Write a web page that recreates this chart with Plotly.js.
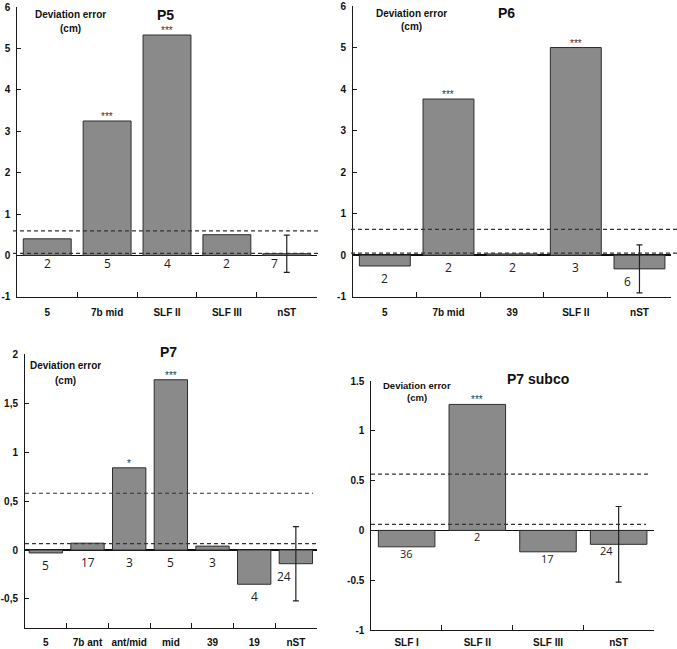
<!DOCTYPE html>
<html>
<head>
<meta charset="utf-8">
<script src="https://cdn.plot.ly/plotly-3.0.1.min.js"></script>
<style>html,body{margin:0;padding:0;background:#fff;}#chart{width:677px;height:649px;}</style>
</head>
<body>
<div id="chart"></div>
<script>
// ---- Data ----
var p5Cats = ['5', '7b mid', 'SLF II', 'SLF III', 'nST'];
var p5Vals = [0.40, 3.25, 5.33, 0.50, 0.04];
var p5N = ['2', '5', '4', '2', '7'];
var p5Stars = ['', '***', '***', '', ''];
var p5Err = 0.45;
var p5Thresh = [0.59, 0.05];

var p6Cats = ['5', '7b mid', '39', 'SLF II', 'nST'];
var p6Vals = [-0.26, 3.76, 0.03, 5.0, -0.33];
var p6N = ['2', '2', '2', '3', '6'];
var p6Stars = ['', '***', '', '***', ''];
var p6Err = 0.58;
var p6Thresh = [0.62, 0.05];

var p7Cats = ['5', '7b ant', 'ant/mid', 'mid', '39', '19', 'nST'];
var p7Vals = [-0.03, 0.07, 0.84, 1.74, 0.04, -0.35, -0.14];
var p7N = ['5', '17', '3', '5', '3', '4', '24'];
var p7Stars = ['', '', '*', '***', '', '', ''];
var p7Err = 0.38;
var p7Thresh = [0.58, 0.065];

var p7sCats = ['SLF I', 'SLF II', 'SLF III', 'nST'];
var p7sVals = [-0.165, 1.265, -0.215, -0.14];
var p7sN = ['36', '2', '17', '24'];
var p7sStars = ['', '***', '', ''];
var p7sErr = 0.38;
var p7sThresh = [0.565, 0.06];

var p5Ticks = [-1, 0, 1, 2, 3, 4, 5, 6];
var p5TickText = ['-1', '0', '1', '2', '3', '4', '5', '6'];
var p7Ticks = [-0.5, 0, 0.5, 1, 1.5, 2];
var p7TickText = ['-0,5', '0', '0,5', '1', '1,5', '2'];
var p7sTicks = [-1, -0.5, 0, 0.5, 1, 1.5];
var p7sTickText = ['-1', '-0.5', '0', '0.5', '1', '1.5'];

// ---- Layout helpers ----
var W = 677, H = 649;
function px(x) { return x / W; }
function py(y) { return 1 - y / H; }

var BAR_FILL = '#8a8a8a', BAR_LINE = '#2e2e2e', AXIS = '#1a1a1a';
var boldFont = {family: 'Liberation Sans, Arial, sans-serif', size: 10, color: '#111', weight: 'bold'};

var panels = [
  {cats: p5Cats, vals: p5Vals, n: p5N, stars: p5Stars, err: p5Err, thr: p5Thresh,
   xd: [17.3, 316.7], yd: [296.7, 7.3], range: [-1, 6], tv: p5Ticks, tt: p5TickText,
   title: 'P5', tpos: [165, 15], dev: [70, 15, 28], devSize: 10, dash: [[13, 318], [13, 318]], nShift: 2, nSize: 12, stand: 6},
  {cats: p6Cats, vals: p6Vals, n: p6N, stars: p6Stars, err: p6Err, thr: p6Thresh,
   xd: [353, 671.3], yd: [296.7, 6], range: [-1, 6], tv: p5Ticks, tt: p5TickText,
   title: 'P6', tpos: [506, 13], dev: [411, 13, 26], devSize: 10, dash: [[351, 677], [351, 677]], nShift: -2, nSize: 12, stand: 6},
  {cats: p7Cats, vals: p7Vals, n: p7N, stars: p7Stars, err: p7Err, thr: p7Thresh,
   xd: [25, 316.7], yd: [628.3, 354.3], range: [-0.8, 2], tv: p7Ticks, tt: p7TickText,
   title: 'P7', tpos: [168, 352], dev: [65, 366, 380], devSize: 10, dash: [[25, 313], [25, 318]], nShift: -2, nSize: 12, stand: 5},
  {cats: p7sCats, vals: p7sVals, n: p7sN, stars: p7sStars, err: p7sErr, thr: p7sThresh,
   xd: [371.3, 654], yd: [630, 381], range: [-1, 1.5], tv: p7sTicks, tt: p7sTickText,
   title: 'P7 subco', tpos: [538, 379], dev: [417, 385, 397], devSize: 9.5, dash: [[371, 650], [371, 646]], nShift: 3, nSize: 11, stand: 3}
];

var data = [], shapes = [], annotations = [];
var layout = {
  width: W, height: H,
  margin: {l: 0, r: 0, t: 0, b: 0},
  paper_bgcolor: '#fff', plot_bgcolor: 'rgba(0,0,0,0)',
  showlegend: false, bargap: 0.2
};

panels.forEach(function (p, i) {
  var k = i === 0 ? '' : String(i + 1);
  var xa = 'x' + k, ya = 'y' + k;
  data.push({
    type: 'bar', x: p.cats, y: p.vals, xaxis: xa, yaxis: ya,
    marker: {color: BAR_FILL, line: {color: BAR_LINE, width: 1}},
    hoverinfo: 'skip'
  });
  var last = p.cats.length - 1;
  data.push({
    type: 'scatter', mode: 'markers', x: [p.cats[last]], y: [p.vals[last]],
    xaxis: xa, yaxis: ya, marker: {size: 0.1, color: 'rgba(0,0,0,0)'},
    error_y: {type: 'data', array: [p.err], visible: true, width: 3, thickness: 1.2, color: '#222'},
    hoverinfo: 'skip'
  });
  layout['xaxis' + k] = {
    domain: [px(p.xd[0]), px(p.xd[1])], anchor: ya, type: 'category',
    categoryorder: 'array', categoryarray: p.cats,
    range: [-0.5, p.cats.length - 0.5], showline: true, linecolor: AXIS, linewidth: 1,
    ticks: 'inside', tickson: 'boundaries', ticklen: 5, tickcolor: AXIS, tickwidth: 1,
    tickangle: 0, automargin: false,
    showgrid: false, zeroline: false, tickfont: boldFont, ticklabelstandoff: p.stand, fixedrange: true
  };
  layout['yaxis' + k] = {
    domain: [py(p.yd[0]), py(p.yd[1])], anchor: xa, range: p.range,
    tickvals: p.tv, ticktext: p.tt, showline: true, linecolor: AXIS, linewidth: 1,
    ticks: 'inside', ticklen: 4, tickcolor: AXIS, tickwidth: 1,
    showgrid: false, zeroline: true, zerolinecolor: '#111', zerolinewidth: 1.5,
    tickfont: boldFont, ticklabelstandoff: 4, fixedrange: true
  };
  // threshold dashed lines
  p.thr.forEach(function (v, j) {
    shapes.push({type: 'line', xref: 'paper', yref: ya, x0: px(p.dash[j][0]), x1: px(p.dash[j][1]),
      y0: v, y1: v, line: {color: '#333', width: 1.2, dash: '4px,3px'}, layer: 'above'});
  });
  // counts and stars (x given as category index so numeric-looking names are not misread)
  p.cats.forEach(function (c, j) {
    var v = p.vals[j];
    annotations.push({xref: xa, yref: ya, x: j, y: Math.min(v, 0), text: p.n[j], showarrow: false,
      yanchor: 'top', yshift: p.nShift, xshift: j === last ? -12 : 0,
      font: {family: 'Open Sans, Noto Sans, sans-serif', size: p.nSize, color: '#222'}});
    if (p.stars[j]) {
      annotations.push({xref: xa, yref: ya, x: j, y: Math.max(v, 0), text: p.stars[j], showarrow: false,
        yanchor: 'bottom', yshift: -3, font: {family: 'Liberation Sans, Arial, sans-serif', size: 10, color: '#333'}});
    }
  });
  annotations.push({xref: 'paper', yref: 'paper', x: px(p.tpos[0]), y: py(p.tpos[1]), text: p.title,
    showarrow: false, xanchor: 'center', yanchor: 'middle',
    font: {family: 'Liberation Sans, Arial, sans-serif', size: 14, color: '#111', weight: 'bold'}});
  annotations.push({xref: 'paper', yref: 'paper', x: px(p.dev[0]), y: py(p.dev[1]), text: 'Deviation error',
    showarrow: false, xanchor: 'center', yanchor: 'middle',
    font: {family: 'Liberation Sans, Arial, sans-serif', size: p.devSize, color: '#111', weight: 'bold'}});
  annotations.push({xref: 'paper', yref: 'paper', x: px(p.dev[0]), y: py(p.dev[2]), text: '(cm)',
    showarrow: false, xanchor: 'center', yanchor: 'middle',
    font: {family: 'Liberation Sans, Arial, sans-serif', size: p.devSize, color: '#111', weight: 'bold'}});
});

layout.shapes = shapes;
layout.annotations = annotations;

Plotly.newPlot('chart', data, layout, {displayModeBar: false, staticPlot: true});
</script>
</body>
</html>
